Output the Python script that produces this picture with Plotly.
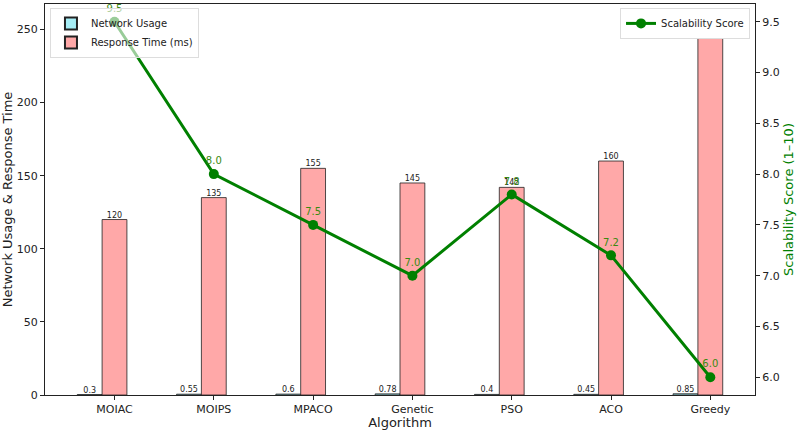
import plotly.graph_objects as go

algorithms = ["MOIAC", "MOIPS", "MPACO", "Genetic", "PSO", "ACO", "Greedy"]
network_usage = [0.3, 0.55, 0.6, 0.78, 0.4, 0.45, 0.85]
response_time = [120, 135, 155, 145, 142, 160, 255]
scalability = [9.5, 8.0, 7.5, 7.0, 7.8, 7.2, 6.0]

width = 0.25
idx = list(range(len(algorithms)))
x_net = [i - width for i in idx]
x_resp = [i for i in idx]

FONT = "DejaVu Sans"
fig = go.Figure()

fig.add_trace(go.Bar(
    x=x_net, y=network_usage, width=width, name="Network Usage",
    marker=dict(color="#a6eef6", line=dict(color="#222222", width=0.8)),
    legend="legend", yaxis="y",
))
fig.add_trace(go.Bar(
    x=x_resp, y=response_time, width=width, name="Response Time (ms)",
    marker=dict(color="#ffa8a8", line=dict(color="#222222", width=0.8)),
    legend="legend", yaxis="y",
))
# bar value labels
fig.add_trace(go.Scatter(
    x=x_net, y=network_usage, mode="text", text=[str(v) for v in network_usage],
    textposition="top center", textfont=dict(size=8, color="#222", family=FONT),
    showlegend=False, yaxis="y", cliponaxis=True, hoverinfo="skip",
))
fig.add_trace(go.Scatter(
    x=x_resp, y=response_time, mode="text", text=[str(v) for v in response_time],
    textposition="top center", textfont=dict(size=8, color="#222", family=FONT),
    showlegend=False, yaxis="y", cliponaxis=True, hoverinfo="skip",
))
fig.add_trace(go.Scatter(
    x=idx, y=scalability, mode="lines+markers+text", name="Scalability Score",
    text=[f"{v:.1f}" for v in scalability], textposition="top center",
    textfont=dict(size=10, color="#3a8a10", family=FONT),
    line=dict(color="#008000", width=3), marker=dict(color="#008000", size=10),
    legend="legend2", yaxis="y2", cliponaxis=False,
))

fig.update_layout(
    width=797, height=430,
    margin=dict(l=43, r=38, t=3, b=33),
    paper_bgcolor="white", plot_bgcolor="white",
    font=dict(family=FONT, size=11, color="#222"),
    barmode="overlay",
    xaxis=dict(
        range=[-0.7, 6.45], tickmode="array", tickvals=idx, ticktext=algorithms,
        showgrid=False, zeroline=False, showline=True, linecolor="#222", linewidth=1,
        mirror=True, ticks="outside", ticklen=4, tickcolor="#222",
        title=dict(text="Algorithm", font=dict(size=13), standoff=2),
    ),
    yaxis=dict(
        range=[0, 267.4], tickvals=[0, 50, 100, 150, 200, 250],
        showgrid=False, zeroline=False, showline=True, linecolor="#222", linewidth=1,
        ticks="outside", ticklen=4, tickcolor="#222",
        title=dict(text="Network Usage & Response Time", font=dict(size=13), standoff=5),
    ),
    yaxis2=dict(
        overlaying="y", side="right", range=[5.825, 9.675],
        tickvals=[6.0, 6.5, 7.0, 7.5, 8.0, 8.5, 9.0, 9.5], tickformat=".1f",
        showgrid=False, zeroline=False, showline=True, linecolor="#222", linewidth=1,
        ticks="outside", ticklen=4, tickcolor="#222",
        title=dict(text="Scalability Score (1–10)", font=dict(size=13, color="green"), standoff=5),
    ),
    legend=dict(
        x=0.007, y=0.99, xanchor="left", yanchor="top",
        bgcolor="rgba(255,255,255,0.6)", bordercolor="#dddddd", borderwidth=1,
        font=dict(size=10), tracegroupgap=0, itemsizing="constant",
    ),
    legend2=dict(
        x=0.993, y=0.99, xanchor="right", yanchor="top",
        bgcolor="rgba(255,255,255,1)", bordercolor="#dddddd", borderwidth=1,
        font=dict(size=10),
    ),
)

fig.write_html("out.html")
